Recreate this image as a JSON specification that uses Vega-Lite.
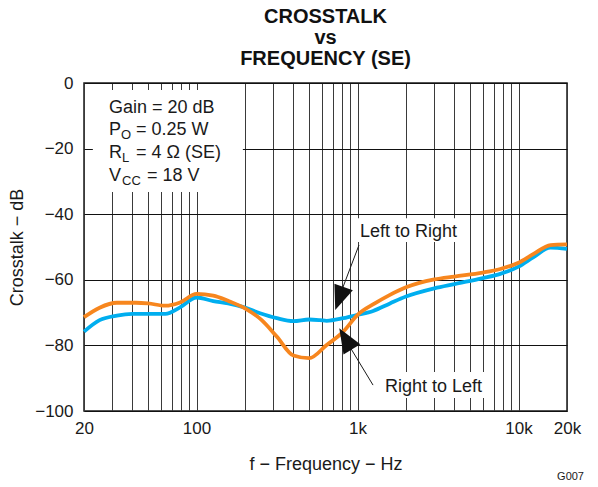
{
  "$schema": "https://vega.github.io/schema/vega-lite/v6.json",
  "width": 483,
  "height": 328,
  "autosize": {"type": "none"},
  "padding": {"left": 84, "top": 83, "right": 31, "bottom": 76},
  "background": "white",
  "config": {
    "font": "Liberation Sans",
    "view": {"stroke": "#1a1a1a", "strokeWidth": 1.5},
    "axis": {"grid": true, "gridColor": "#2a2a2a", "gridOpacity": 1, "gridWidth": 1, "ticks": false, "domain": false, "labelColor": "#1a1a1a", "titleColor": "#1a1a1a", "labelFont": "Liberation Sans", "titleFont": "Liberation Sans", "titleFontWeight": "normal"}
  },
  "title": {
    "text": ["CROSSTALK", "vs", "FREQUENCY (SE)"],
    "fontSize": 20,
    "fontWeight": "bold",
    "font": "Liberation Sans",
    "lineHeight": 21,
    "anchor": "middle",
    "offset": 5,
    "color": "#111"
  },
  "data": {"values": [{}]},
  "datasets": {
    "curves": [
      {"series": "Left to Right", "f": 20, "db": -75.8},
      {"series": "Left to Right", "f": 25, "db": -72.3},
      {"series": "Left to Right", "f": 32, "db": -70.9},
      {"series": "Left to Right", "f": 40, "db": -70.4},
      {"series": "Left to Right", "f": 50, "db": -70.4},
      {"series": "Left to Right", "f": 64, "db": -70.4},
      {"series": "Left to Right", "f": 79, "db": -68.4},
      {"series": "Left to Right", "f": 100, "db": -65.4},
      {"series": "Left to Right", "f": 127, "db": -66.5},
      {"series": "Left to Right", "f": 157, "db": -67.2},
      {"series": "Left to Right", "f": 200, "db": -68.5},
      {"series": "Left to Right", "f": 248, "db": -70.2},
      {"series": "Left to Right", "f": 315, "db": -71.7},
      {"series": "Left to Right", "f": 400, "db": -72.6},
      {"series": "Left to Right", "f": 500, "db": -72.1},
      {"series": "Left to Right", "f": 585, "db": -72.3},
      {"series": "Left to Right", "f": 643, "db": -72.5},
      {"series": "Left to Right", "f": 816, "db": -71.7},
      {"series": "Left to Right", "f": 1000, "db": -70.7},
      {"series": "Left to Right", "f": 1250, "db": -69.5},
      {"series": "Left to Right", "f": 1590, "db": -67.2},
      {"series": "Left to Right", "f": 2000, "db": -65.1},
      {"series": "Left to Right", "f": 3000, "db": -62.6},
      {"series": "Left to Right", "f": 4000, "db": -61.3},
      {"series": "Left to Right", "f": 6000, "db": -59.5},
      {"series": "Left to Right", "f": 7700, "db": -58.2},
      {"series": "Left to Right", "f": 10000, "db": -56.0},
      {"series": "Left to Right", "f": 12400, "db": -53.1},
      {"series": "Left to Right", "f": 15800, "db": -50.2},
      {"series": "Left to Right", "f": 20000, "db": -50.6},
      {"series": "Right to Left", "f": 20, "db": -71.4},
      {"series": "Right to Left", "f": 25, "db": -68.5},
      {"series": "Right to Left", "f": 32, "db": -67.0},
      {"series": "Right to Left", "f": 42, "db": -67.0},
      {"series": "Right to Left", "f": 50, "db": -67.2},
      {"series": "Right to Left", "f": 64, "db": -67.9},
      {"series": "Right to Left", "f": 79, "db": -66.9},
      {"series": "Right to Left", "f": 100, "db": -64.3},
      {"series": "Right to Left", "f": 127, "db": -64.8},
      {"series": "Right to Left", "f": 157, "db": -66.4},
      {"series": "Right to Left", "f": 200, "db": -68.7},
      {"series": "Right to Left", "f": 254, "db": -72.3},
      {"series": "Right to Left", "f": 315, "db": -77.3},
      {"series": "Right to Left", "f": 400, "db": -83.1},
      {"series": "Right to Left", "f": 500, "db": -83.9},
      {"series": "Right to Left", "f": 643, "db": -79.9},
      {"series": "Right to Left", "f": 816, "db": -75.8},
      {"series": "Right to Left", "f": 1000, "db": -70.7},
      {"series": "Right to Left", "f": 1280, "db": -67.2},
      {"series": "Right to Left", "f": 1590, "db": -64.6},
      {"series": "Right to Left", "f": 2000, "db": -62.3},
      {"series": "Right to Left", "f": 3000, "db": -59.9},
      {"series": "Right to Left", "f": 4000, "db": -59.0},
      {"series": "Right to Left", "f": 6000, "db": -57.8},
      {"series": "Right to Left", "f": 7700, "db": -56.7},
      {"series": "Right to Left", "f": 10000, "db": -54.8},
      {"series": "Right to Left", "f": 12400, "db": -52.1},
      {"series": "Right to Left", "f": 15800, "db": -49.4},
      {"series": "Right to Left", "f": 20000, "db": -49.2}
    ]
  },
  "layer": [
    {
      "data": {"name": "curves"},
      "mark": {"type": "line", "strokeWidth": 3.8, "strokeJoin": "round", "interpolate": "monotone"},
      "encoding": {
        "x": {"field": "f", "type": "quantitative", "scale": {"type": "log", "domain": [20, 20000], "nice": false},
          "axis": {
            "grid": true,
            "gridColor": "#3a3a3a",
            "values": [20,30,40,50,60,70,80,90,100,200,300,400,500,600,700,800,900,1000,2000,3000,4000,5000,6000,7000,8000,9000,10000,20000],
            "labelExpr": "indexof([20,100,1000,10000,20000], datum.value) >= 0 ? (datum.value >= 1000 ? (datum.value/1000) + 'k' : datum.value + '') : ''",
            "labelOverlap": false,
            "labelFlush": false,
            "labelFontSize": 17,
            "labelPadding": 9,
            "title": "f − Frequency − Hz",
            "titleFontSize": 18,
            "titlePadding": 19
          }
        },
        "y": {"field": "db", "type": "quantitative", "scale": {"domain": [-100, 0], "nice": false},
          "axis": {
            "grid": true,
            "gridColor": "#111111",
            "values": [-100, -80, -60, -40, -20, 0],
            "labelFontSize": 17,
            "labelPadding": 11,
            "title": "Crosstalk − dB",
            "titleFontSize": 18,
            "titlePadding": 8
          }
        },
        "detail": {"field": "series"},
        "color": {"field": "series", "type": "nominal", "scale": {"domain": ["Left to Right", "Right to Left"], "range": ["#00aeef", "#f7861e"]}, "legend": null},
        "order": {"field": "f", "type": "quantitative"}
      }
    },
    {
      "mark": {"type": "rect", "fill": "white", "stroke": null},
      "encoding": {
        "x": {"datum": 22.7, "type": "quantitative"},
        "x2": {"datum": 194},
        "y": {"datum": -2.1, "type": "quantitative"},
        "y2": {"datum": -33.2}
      }
    },
    {
      "mark": {"type": "rect", "fill": "white", "stroke": null},
      "encoding": {
        "x": {"datum": 950, "type": "quantitative"},
        "x2": {"datum": 4456},
        "y": {"datum": -41.2, "type": "quantitative"},
        "y2": {"datum": -48.5}
      }
    },
    {
      "mark": {"type": "rect", "fill": "white", "stroke": null},
      "encoding": {
        "x": {"datum": 1359, "type": "quantitative"},
        "x2": {"datum": 6937},
        "y": {"datum": -88.1, "type": "quantitative"},
        "y2": {"datum": -96.0}
      }
    },
    {
      "mark": {"type": "text", "align": "left", "baseline": "alphabetic", "fontSize": 18, "color": "#1a1a1a"},
      "encoding": {"x": {"datum": 28.6, "type": "quantitative"}, "y": {"datum": -9.15, "type": "quantitative"}, "text": {"value": "Gain = 20 dB"}}
    },
    {
      "mark": {"type": "text", "align": "left", "baseline": "alphabetic", "fontSize": 18, "color": "#1a1a1a"},
      "encoding": {"x": {"datum": 28.6, "type": "quantitative"}, "y": {"datum": -15.9, "type": "quantitative"}, "text": {"value": "P"}}
    },
    {
      "mark": {"type": "text", "align": "left", "baseline": "alphabetic", "fontSize": 13, "dx": 12, "dy": 4, "color": "#1a1a1a"},
      "encoding": {"x": {"datum": 28.6, "type": "quantitative"}, "y": {"datum": -15.9, "type": "quantitative"}, "text": {"value": "O"}}
    },
    {
      "mark": {"type": "text", "align": "left", "baseline": "alphabetic", "fontSize": 18, "dx": 27, "color": "#1a1a1a"},
      "encoding": {"x": {"datum": 28.6, "type": "quantitative"}, "y": {"datum": -15.9, "type": "quantitative"}, "text": {"value": "= 0.25 W"}}
    },
    {
      "mark": {"type": "text", "align": "left", "baseline": "alphabetic", "fontSize": 18, "color": "#1a1a1a"},
      "encoding": {"x": {"datum": 28.6, "type": "quantitative"}, "y": {"datum": -22.9, "type": "quantitative"}, "text": {"value": "R"}}
    },
    {
      "mark": {"type": "text", "align": "left", "baseline": "alphabetic", "fontSize": 13, "dx": 13, "dy": 4, "color": "#1a1a1a"},
      "encoding": {"x": {"datum": 28.6, "type": "quantitative"}, "y": {"datum": -22.9, "type": "quantitative"}, "text": {"value": "L"}}
    },
    {
      "mark": {"type": "text", "align": "left", "baseline": "alphabetic", "fontSize": 18, "dx": 27, "color": "#1a1a1a"},
      "encoding": {"x": {"datum": 28.6, "type": "quantitative"}, "y": {"datum": -22.9, "type": "quantitative"}, "text": {"value": "= 4 Ω (SE)"}}
    },
    {
      "mark": {"type": "text", "align": "left", "baseline": "alphabetic", "fontSize": 18, "color": "#1a1a1a"},
      "encoding": {"x": {"datum": 28.6, "type": "quantitative"}, "y": {"datum": -29.9, "type": "quantitative"}, "text": {"value": "V"}}
    },
    {
      "mark": {"type": "text", "align": "left", "baseline": "alphabetic", "fontSize": 13, "dx": 13, "dy": 4, "color": "#1a1a1a"},
      "encoding": {"x": {"datum": 28.6, "type": "quantitative"}, "y": {"datum": -29.9, "type": "quantitative"}, "text": {"value": "CC"}}
    },
    {
      "mark": {"type": "text", "align": "left", "baseline": "alphabetic", "fontSize": 18, "dx": 38, "color": "#1a1a1a"},
      "encoding": {"x": {"datum": 28.6, "type": "quantitative"}, "y": {"datum": -29.9, "type": "quantitative"}, "text": {"value": "= 18 V"}}
    },
    {
      "mark": {"type": "text", "align": "left", "baseline": "alphabetic", "fontSize": 18, "color": "#1a1a1a"},
      "encoding": {"x": {"datum": 1036, "type": "quantitative"}, "y": {"datum": -46.95, "type": "quantitative"}, "text": {"value": "Left to Right"}}
    },
    {
      "mark": {"type": "text", "align": "left", "baseline": "alphabetic", "fontSize": 18, "color": "#1a1a1a"},
      "encoding": {"x": {"datum": 1482, "type": "quantitative"}, "y": {"datum": -94.2, "type": "quantitative"}, "text": {"value": "Right to Left"}}
    },
    {
      "mark": {"type": "rule", "strokeWidth": 1, "color": "#1a1a1a"},
      "encoding": {"x": {"datum": 1021, "type": "quantitative"}, "y": {"datum": -49.4, "type": "quantitative"}, "x2": {"datum": 780}, "y2": {"datum": -64.5}}
    },
    {
      "mark": {"type": "rule", "strokeWidth": 1, "color": "#1a1a1a"},
      "encoding": {"x": {"datum": 1248, "type": "quantitative"}, "y": {"datum": -92.1, "type": "quantitative"}, "x2": {"datum": 860}, "y2": {"datum": -79.0}}
    },
    {
      "mark": {"type": "point", "shape": "M0,-1L-0.8,1L0.8,1Z", "filled": true, "size": 600, "angle": 200, "color": "#111", "opacity": 1},
      "encoding": {"x": {"datum": 772, "type": "quantitative"}, "y": {"datum": -65.7, "type": "quantitative"}}
    },
    {
      "mark": {"type": "point", "shape": "M0,-1L-0.8,1L0.8,1Z", "filled": true, "size": 600, "angle": 329, "color": "#111", "opacity": 1},
      "encoding": {"x": {"datum": 843, "type": "quantitative"}, "y": {"datum": -78.0, "type": "quantitative"}}
    },
    {
      "mark": {"type": "text", "align": "right", "baseline": "alphabetic", "fontSize": 11, "dx": 17, "dy": 69, "color": "#1a1a1a"},
      "encoding": {"x": {"datum": 20000, "type": "quantitative"}, "y": {"datum": -100, "type": "quantitative"}, "text": {"value": "G007"}}
    }
  ]
}
